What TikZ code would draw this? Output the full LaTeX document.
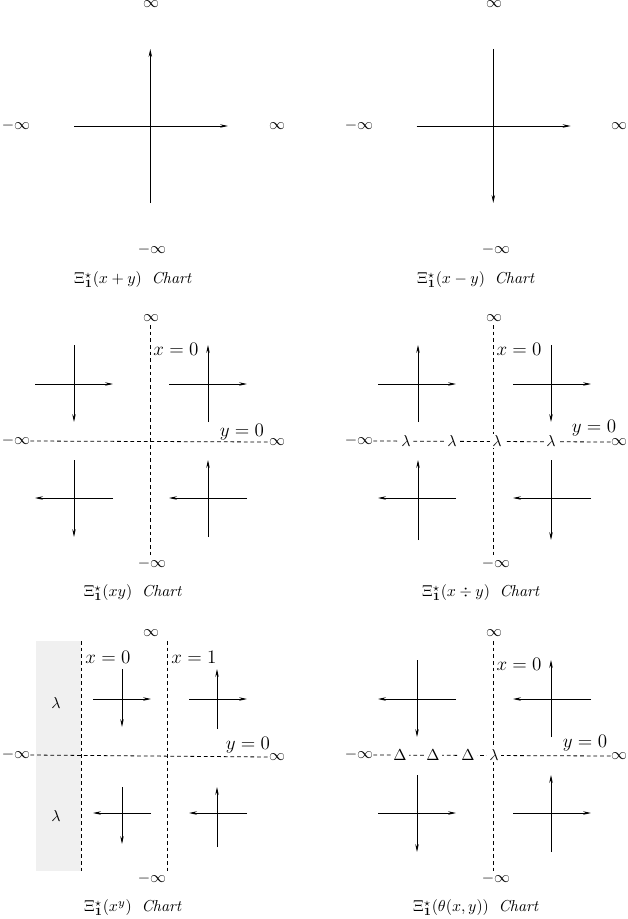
\documentclass[tikz,border=0pt]{standalone}
\usetikzlibrary{arrows.meta}
\begin{document}
\begin{tikzpicture}[x=0.63pt,y=-0.63pt,
  ax/.style={line width=0.5pt},
  arr/.style={ax,-{Stealth[length=5pt,width=2.2pt]}},
  dsh/.style={line width=0.5pt,dash pattern=on 2.4pt off 1.8pt},
  lbl/.style={inner sep=0pt},
  big/.style={inner sep=0pt,font=\large},
  mk/.style={fill=white,inner sep=1.2pt},
  capt/.style={inner sep=0pt}]
\useasboundingbox (0,0) rectangle (628,919);

% ---------------- Panel 1 ----------------
\node[lbl] (p1t) at (151,4.5) {$\infty$};
\node[lbl] (p1l) at (16,126) {$-\infty$};
\node[lbl] (p1r) at (277,126) {$\infty$};
\node[lbl] (p1b) at (152,250) {$-\infty$};
\draw[arr] (150.3,203) -- (150.3,49);
\draw[arr] (74,126) -- (228,126);
\node[capt] (p1c) at (133,280) {$\Xi^{\star}_{\mathbf{1}}(x+y)$\;\ \textit{Chart}};

% ---------------- Panel 2 ----------------
\node[lbl] (p2t) at (494,4.5) {$\infty$};
\node[lbl] (p2l) at (359,126) {$-\infty$};
\node[lbl] (p2r) at (619,126) {$\infty$};
\node[lbl] (p2b) at (496,250) {$-\infty$};
\draw[arr] (493.3,49) -- (493.3,203);
\draw[arr] (416.7,126) -- (570.7,126);
\node[capt] (p2c) at (476,280) {$\Xi^{\star}_{\mathbf{1}}(x-y)$\;\ \textit{Chart}};

% ---------------- Panel 3 ----------------
\node[lbl] (p3t) at (151,318) {$\infty$};
\node[lbl] (p3l) at (16,441) {$-\infty$};
\node[lbl] (p3r) at (277,442) {$\infty$};
\node[lbl] (p3b) at (152,564) {$-\infty$};
\draw[dsh] (150.3,325) -- (150.3,556);
\draw[dsh] (p3l.east) -- (p3r.west);
\node[big] (p3x) at (176,349) {$x=0$};
\node[big] (p3y) at (242,432) {$y=0$};
% TL
\draw[arr] (74,345) -- (74,422);
\draw[arr] (35,384) -- (113,384);
% TR
\draw[arr] (208,422) -- (208,345);
\draw[arr] (169,384) -- (247,384);
% BL
\draw[arr] (74,460) -- (74,537);
\draw[arr] (113,498) -- (35,498);
% BR
\draw[arr] (208,537) -- (208,460);
\draw[arr] (247,498) -- (169,498);
\node[capt] (p3c) at (133,593) {$\Xi^{\star}_{\mathbf{1}}(xy)$\;\ \textit{Chart}};

% ---------------- Panel 4 ----------------
\node[lbl] (p4t) at (494,318) {$\infty$};
\node[lbl] (p4l) at (359,441) {$-\infty$};
\node[lbl] (p4r) at (619,442) {$\infty$};
\node[lbl] (p4b) at (496,564) {$-\infty$};
\draw[dsh] (493.3,325) -- (493.3,556);
\draw[dsh] (p4l.east) -- (p4r.west);
\node[mk] (p4m1) at (406,441) {$\lambda$};
\node[mk] (p4m2) at (452,441) {$\lambda$};
\node[mk] (p4m3) at (497,441) {$\lambda$};
\node[mk] (p4m4) at (551,441) {$\lambda$};
\node[big] (p4x) at (519,349) {$x=0$};
\node[big] (p4y) at (594,428) {$y=0$};
% TL
\draw[arr] (418,422) -- (418,345);
\draw[arr] (378,384) -- (456,384);
% TR
\draw[arr] (551,345) -- (551,422);
\draw[arr] (513,384) -- (591,384);
% BL
\draw[arr] (418,540) -- (418,460);
\draw[arr] (456,498) -- (378,498);
% BR
\draw[arr] (551,460) -- (551,540);
\draw[arr] (591,498) -- (513,498);
\node[capt] (p4c) at (481,593) {$\Xi^{\star}_{\mathbf{1}}(x\div y)$\;\ \textit{Chart}};

% ---------------- Panel 5 ----------------
\fill[black!6] (36,641) rectangle (81.3,871);
\node[lbl] (p5t) at (151,633) {$\infty$};
\node[lbl] (p5l) at (16,755) {$-\infty$};
\node[lbl] (p5r) at (277,757) {$\infty$};
\node[lbl] (p5b) at (152,879) {$-\infty$};
\draw[dsh] (81.3,641) -- (81.3,871);
\draw[dsh] (167.3,641) -- (167.3,871);
\draw[dsh] (p5l.east) -- (p5r.west);
\node[big] (p5x0) at (108,657) {$x=0$};
\node[big] (p5x1) at (194,657) {$x=1$};
\node[big] (p5y) at (248,745) {$y=0$};
\node[lbl] (p5m1) at (56,703) {$\lambda$};
\node[lbl] (p5m2) at (56,816) {$\lambda$};
% TL
\draw[arr] (122,669) -- (122,727);
\draw[arr] (93,699) -- (151,699);
% TR
\draw[arr] (217,729) -- (217,669);
\draw[arr] (189,699) -- (247,699);
% BL
\draw[arr] (122,787) -- (122,844);
\draw[arr] (151,813) -- (93,813);
% BR
\draw[arr] (217,847) -- (217,787);
\draw[arr] (247,813) -- (189,813);
\node[capt] (p5c) at (133,908) {$\Xi^{\star}_{\mathbf{1}}(x^{y})$\;\ \textit{Chart}};

% ---------------- Panel 6 ----------------
\node[lbl] (p6t) at (494,633) {$\infty$};
\node[lbl] (p6l) at (359,755) {$-\infty$};
\node[lbl] (p6r) at (619,756) {$\infty$};
\node[lbl] (p6b) at (496,879) {$-\infty$};
\draw[dsh] (493.3,641) -- (493.3,871);
\draw[dsh] (p6l.east) -- (p6r.west);
\node[mk] (p6m1) at (400,755) {$\Delta$};
\node[mk] (p6m2) at (433,755) {$\Delta$};
\node[mk] (p6m3) at (468,755) {$\Delta$};
\node[mk] (p6m4) at (494,755) {$\lambda$};
\node[big] (p6x) at (519,664) {$x=0$};
\node[big] (p6y) at (585,743) {$y=0$};
% TL
\draw[arr] (417,660) -- (417,737);
\draw[arr] (456,699) -- (378,699);
% TR
\draw[arr] (551,737) -- (551,660);
\draw[arr] (591,699) -- (513,699);
% BL
\draw[arr] (417,775) -- (417,852);
\draw[arr] (378,813) -- (456,813);
% BR
\draw[arr] (551,852) -- (551,775);
\draw[arr] (513,813) -- (591,813);
\node[capt] (p6c) at (476,908) {$\Xi^{\star}_{\mathbf{1}}(\theta(x,y))$\;\ \textit{Chart}};
\end{tikzpicture}
\end{document}
